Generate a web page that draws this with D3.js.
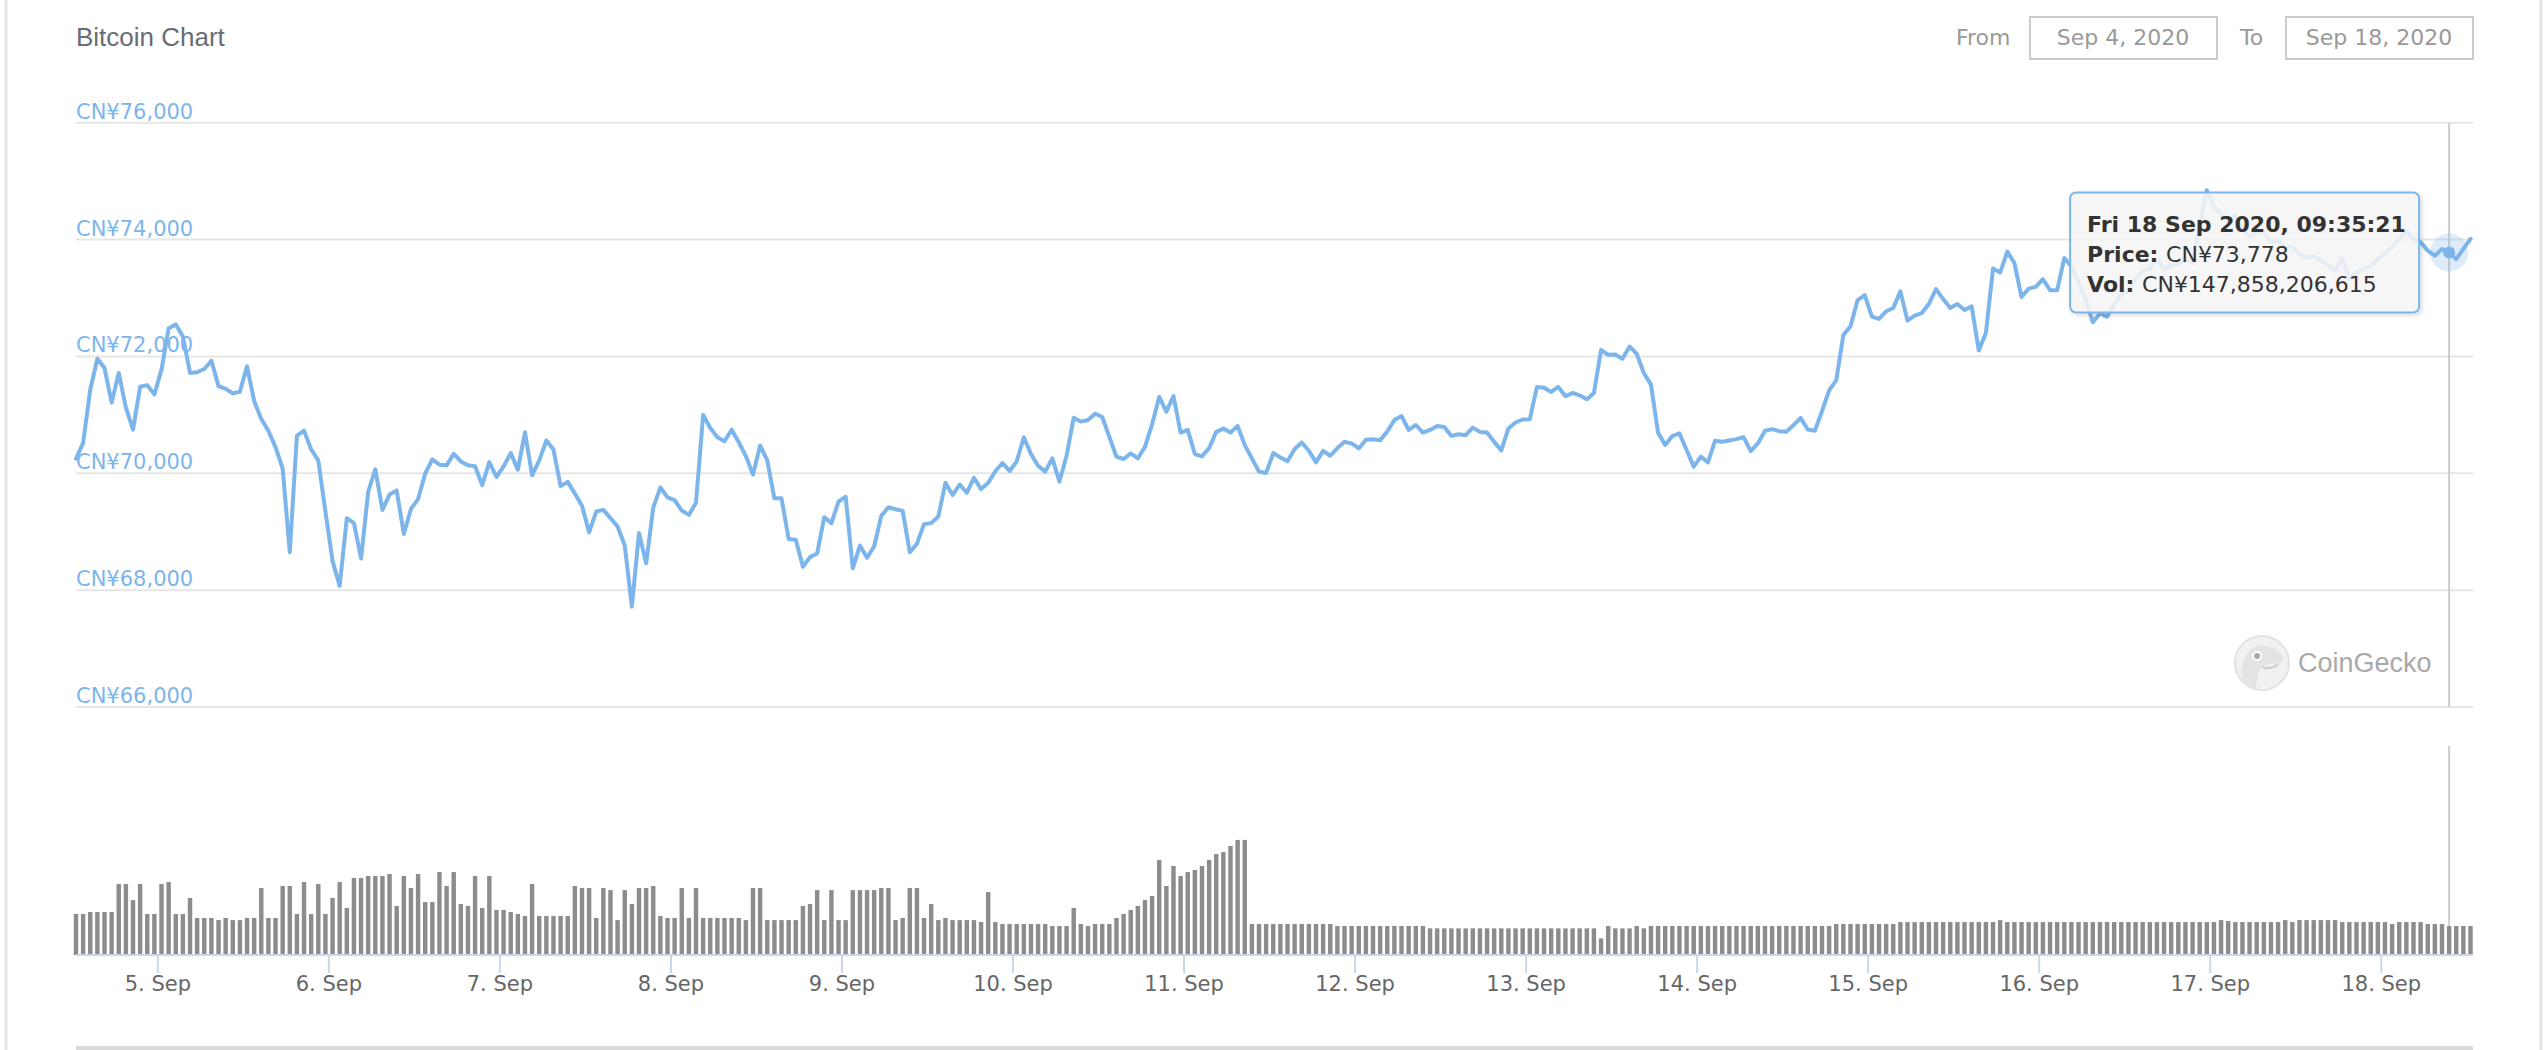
<!DOCTYPE html>
<html>
<head>
<meta charset="utf-8">
<script src="https://cdn.jsdelivr.net/npm/d3@7"></script>
<style>
  html, body { margin: 0; padding: 0; background: #fff; }
  svg { display: block; font-family: "DejaVu Sans", "Lucida Grande", sans-serif; }
</style>
</head>
<body>
<svg id="chart"></svg>
<script>
// Hourly samples, first one at Sep 4 2020 12:35:21 (UTC)
const firstSample = Date.UTC(2020, 8, 4, 12, 35, 21);

// Price in CNY, one value per hour
const prices = [
  70249, 70520, 71435, 71961, 71802, 71209, 71718, 71124, 70746, 71480,
  71509, 71350, 71774, 72480, 72548, 72339, 71718, 71729, 71785, 71927,
  71492, 71446, 71367, 71396, 71831, 71237, 70927, 70729, 70446, 70079,
  68650, 70644, 70729, 70407, 70220, 69345, 68497, 68073, 69232, 69147,
  68542, 69684, 70068, 69373, 69638, 69706, 68960, 69390, 69559, 69994,
  70237, 70147, 70136, 70333, 70203, 70136, 70119, 69797, 70192, 69938,
  70119, 70345, 70062, 70701, 69966, 70220, 70559, 70407, 69780, 69853,
  69655, 69446, 68989, 69345, 69373, 69232, 69090, 68763, 67717, 68977,
  68458, 69412, 69757, 69588, 69542, 69362, 69288, 69497, 71000, 70774,
  70616, 70548, 70746, 70531, 70294, 69977, 70475, 70220, 69571, 69571,
  68876, 68864, 68401, 68565, 68627, 69249, 69147, 69514, 69599, 68373,
  68763, 68554, 68751, 69271, 69418, 69384, 69356, 68650, 68791, 69130,
  69147, 69260, 69836, 69627, 69808, 69667, 69921, 69729, 69836, 70034,
  70175, 70040, 70203, 70616, 70329, 70130, 70028, 70255, 69858, 70300,
  70952, 70884, 70912, 71020, 70963, 70623, 70283, 70244, 70340, 70255,
  70453, 70839, 71309, 71054, 71320, 70697, 70742, 70329, 70289, 70431,
  70708, 70765, 70697, 70810, 70482, 70255, 70028, 70006, 70346, 70272,
  70204, 70414, 70527, 70385, 70187, 70385, 70300, 70431, 70538, 70510,
  70425, 70572, 70584, 70567, 70714, 70912, 70980, 70742, 70827, 70697,
  70742, 70810, 70793, 70640, 70669, 70652, 70782, 70708, 70697, 70538,
  70392, 70767, 70869, 70920, 70926, 71477, 71465, 71392, 71477, 71318,
  71375, 71335, 71267, 71375, 72113, 72028, 72033, 71960, 72170, 72045,
  71715, 71517, 70693, 70483, 70636, 70682, 70398, 70114, 70284, 70187,
  70557, 70540, 70562, 70585, 70619, 70381, 70511, 70727, 70755, 70721,
  70710, 70824, 70949, 70750, 70727, 71062, 71420, 71590, 72369, 72516,
  72965, 73050, 72681, 72641, 72772, 72829, 73113, 72613, 72698, 72743,
  72897, 73152, 72982, 72829, 72897, 72795, 72857, 72103, 72402, 73506,
  73437, 73793, 73598, 73017, 73161, 73190, 73322, 73132, 73132, 73684,
  73540, 73264, 72977, 72586, 72736, 72678, 72891, 73063, 73121, 73322,
  73465, 73494, 73667, 73494, 73552, 73580, 73667, 73598, 74241, 74845,
  74557, 74442, 74328, 74414, 74184, 74040, 74115, 74138, 73954, 73983,
  73868, 73885, 73753, 73695, 73713, 73638, 73563, 73465, 73678, 73322,
  73437, 73494, 73552, 73667, 73770, 73868, 74011, 74138, 74011, 73954,
  73810, 73724, 73839, 73778, 73667, 73839, 74011
];

// 24h volume in billions of CNY, one bar per hour
const volumes = [
  209, 209, 219, 219, 219, 219, 362, 362, 280, 362,
  209, 209, 362, 372, 209, 209, 291, 189, 189, 189,
  178, 189, 178, 178, 189, 189, 342, 189, 189, 352,
  352, 209, 372, 209, 362, 209, 291, 372, 240, 393,
  393, 403, 403, 403, 413, 250, 403, 342, 413, 270,
  270, 423, 352, 423, 260, 250, 403, 240, 403, 230,
  230, 219, 209, 199, 362, 199, 199, 199, 199, 199,
  352, 342, 342, 189, 342, 331, 178, 331, 260, 342,
  342, 352, 199, 189, 189, 342, 189, 342, 189, 189,
  189, 189, 189, 189, 178, 342, 342, 178, 178, 178,
  178, 178, 250, 260, 331, 178, 331, 178, 178, 331,
  331, 331, 331, 342, 342, 178, 189, 342, 342, 189,
  260, 178, 189, 178, 178, 178, 178, 168, 321, 168,
  158, 158, 158, 158, 158, 158, 158, 148, 148, 148,
  240, 158, 148, 158, 158, 158, 189, 209, 230, 250,
  280, 301, 485, 352, 454, 403, 423, 434, 454, 485,
  515, 525, 556, 587, 587, 158, 158, 158, 158, 158,
  158, 158, 158, 158, 158, 158, 158, 148, 148, 148,
  148, 148, 148, 148, 148, 148, 148, 148, 148, 148,
  136, 136, 136, 136, 136, 136, 136, 136, 136, 136,
  136, 136, 136, 136, 136, 136, 136, 136, 136, 136,
  136, 136, 136, 136, 85, 148, 136, 136, 136, 148,
  136, 148, 148, 148, 148, 148, 148, 148, 148, 148,
  148, 148, 148, 148, 148, 148, 148, 148, 148, 148,
  148, 148, 148, 148, 148, 148, 148, 158, 158, 158,
  158, 158, 158, 158, 158, 158, 168, 168, 168, 168,
  168, 168, 168, 168, 168, 168, 168, 168, 168, 168,
  178, 168, 168, 168, 168, 168, 168, 168, 168, 168,
  168, 168, 168, 168, 168, 168, 168, 168, 168, 168,
  168, 168, 168, 168, 168, 168, 168, 168, 168, 168,
  168, 178, 173, 168, 168, 168, 168, 168, 168, 168,
  178, 168, 178, 178, 178, 178, 178, 178, 168, 168,
  168, 168, 168, 168, 168, 158, 168, 168, 168, 168,
  158, 158, 158, 147.86, 148, 148, 148
];

const priceTicks = [66000, 68000, 70000, 72000, 74000, 76000];

// Hovered point shown in the tooltip
const hoverIndex = 333;
const hoverLabel = "Fri 18 Sep 2020, 09:35:21";
const hoverPrice = 73778;
const hoverVolume = 147858206615;

const fromLabel = "Sep 4, 2020", toLabel = "Sep 18, 2020";

const W = 2546, H = 1050;
const plot = { left: 76, right: 2473, priceTop: 122.7, priceBottom: 707, volTop: 746, volBottom: 955 };
const blue = "#7cb5ec";

const times = prices.map((d, i) => new Date(firstSample + i * 3600e3));

const svg = d3.select("#chart").attr("width", W).attr("height", H);

// card edges
svg.append("line").attr("x1", 6).attr("x2", 6).attr("y1", 0).attr("y2", H)
  .attr("stroke", "#e3e3e3").attr("stroke-width", 3);
svg.append("line").attr("x1", 2541).attr("x2", 2541).attr("y1", 0).attr("y2", H)
  .attr("stroke", "#e3e3e3").attr("stroke-width", 3);

// title
svg.append("text").attr("x", 76).attr("y", 46)
  .style("font-family", "'Liberation Sans', Arial, sans-serif")
  .style("font-size", "26px").style("fill", "#686d75")
  .text("Bitcoin Chart");

// date range inputs
const range = svg.append("g").style("font-size", "22px").style("fill", "#999");
range.append("text").attr("x", 1956).attr("y", 45).text("From");
range.append("rect").attr("x", 2030).attr("y", 17).attr("width", 187).attr("height", 42)
  .attr("fill", "#fff").attr("stroke", "#ccc").attr("stroke-width", 2);
range.append("text").attr("x", 2123).attr("y", 45).attr("text-anchor", "middle").text(fromLabel);
range.append("text").attr("x", 2240).attr("y", 45).text("To");
range.append("rect").attr("x", 2286).attr("y", 17).attr("width", 187).attr("height", 42)
  .attr("fill", "#fff").attr("stroke", "#ccc").attr("stroke-width", 2);
range.append("text").attr("x", 2379).attr("y", 45).attr("text-anchor", "middle").text(toLabel);

// scales
const x = d3.scaleUtc()
  .domain([times[0], times[times.length - 1]])
  .range([plot.left, 2470.5]);
const y = d3.scaleLinear().domain([66000, 76000]).range([plot.priceBottom, plot.priceTop]);
const yVol = d3.scaleLinear().domain([0, 1066]).range([plot.volBottom, plot.volTop]);

// grid + y labels
const grid = svg.append("g");
priceTicks.forEach(t => {
  grid.append("line")
    .attr("x1", plot.left).attr("x2", plot.right)
    .attr("y1", y(t)).attr("y2", y(t))
    .attr("stroke", "#e6e6e6").attr("stroke-width", 2);
});

// CoinGecko watermark
const logo = svg.append("g").attr("transform", "translate(2262,663)");
logo.append("circle").attr("r", 27).attr("fill", "#f1f1f1").attr("stroke", "#e2e2e2").attr("stroke-width", 2);
logo.append("path")
  .attr("d", "M-20,18 C-22,0 -16,-14 -4,-17 C6,-19 14,-14 20,-8 C23,-5 22,-1 17,0 C10,1 2,0 -2,6 C-5,12 -6,20 -6,26 C-12,25 -17,22 -20,18 Z")
  .attr("fill", "#e3e3e3");
logo.append("circle").attr("cx", -5).attr("cy", -7).attr("r", 5).attr("fill", "#fff");
logo.append("circle").attr("cx", -5).attr("cy", -7).attr("r", 3).attr("fill", "#a9a9a9");
logo.append("path").attr("d", "M0,4 C6,6 12,5 16,1").attr("fill", "none")
  .attr("stroke", "#cfcfcf").attr("stroke-width", 2);
svg.append("text").attr("x", 2298).attr("y", 672)
  .style("font-family", "'Liberation Sans', Arial, sans-serif")
  .style("font-size", "27px").style("fill", "#a9a9a9")
  .text("CoinGecko");

// crosshair
const hx = x(times[hoverIndex]);
svg.append("line").attr("x1", hx).attr("x2", hx).attr("y1", plot.priceTop).attr("y2", plot.priceBottom)
  .attr("stroke", "#cccccc").attr("stroke-width", 2);
svg.append("line").attr("x1", hx).attr("x2", hx).attr("y1", plot.volTop).attr("y2", plot.volBottom)
  .attr("stroke", "#cccccc").attr("stroke-width", 2);

// y axis labels sit on top of the grid lines
grid.selectAll("text.ylab").data(priceTicks).join("text")
  .attr("class", "ylab")
  .attr("x", plot.left).attr("y", d => y(d) - 4)
  .style("font-size", "21px").style("fill", blue)
  .text(d => "CN¥" + d3.format(",")(d));

// volume bars
const step = x(times[1]) - x(times[0]);
const barW = step * 0.62;
svg.append("g").selectAll("rect").data(volumes).join("rect")
  .attr("x", (d, i) => x(times[i]) - barW / 2)
  .attr("width", barW)
  .attr("y", d => yVol(d))
  .attr("height", d => plot.volBottom - yVol(d))
  .attr("fill", "#8c8c8c");

// price line
const line = d3.line().x((d, i) => x(times[i])).y(d => y(d));
svg.append("path").datum(prices)
  .attr("d", line)
  .attr("fill", "none").attr("stroke", blue).attr("stroke-width", 4)
  .attr("stroke-linejoin", "round").attr("stroke-linecap", "round");

// x axis
const xAxis = d3.axisBottom(x)
  .ticks(d3.utcDay.every(1))
  .tickFormat(d3.utcFormat("%-d. %b"))
  .tickSize(18).tickSizeOuter(0).tickPadding(3);
const gx = svg.append("g").attr("transform", `translate(0,${plot.volBottom})`).call(xAxis);
gx.select(".domain").remove();
gx.selectAll(".tick line").attr("stroke", "#ccd6eb").attr("stroke-width", 2);
gx.selectAll(".tick text").style("font-size", "21px").style("fill", "#666").style("font-family", "'DejaVu Sans', sans-serif");
svg.append("line").attr("x1", plot.left).attr("x2", plot.right)
  .attr("y1", plot.volBottom).attr("y2", plot.volBottom)
  .attr("stroke", "#ccd6eb").attr("stroke-width", 2);

// navigator edge at the bottom
svg.append("rect").attr("x", plot.left).attr("y", 1046).attr("width", plot.right - plot.left).attr("height", 4)
  .attr("fill", "#dadada");

// hover marker
const hy = y(prices[hoverIndex]);
svg.append("circle").attr("cx", hx).attr("cy", hy).attr("r", 19).attr("fill", blue).attr("opacity", 0.25);
svg.append("circle").attr("cx", hx).attr("cy", hy).attr("r", 6).attr("fill", blue);

// tooltip
const defs = svg.append("defs");
const f = defs.append("filter").attr("id", "shadow").attr("x", "-10%").attr("y", "-10%").attr("width", "120%").attr("height", "130%");
f.append("feDropShadow").attr("dx", 2).attr("dy", 2).attr("stdDeviation", 2).attr("flood-color", "#000").attr("flood-opacity", 0.15);

const tip = svg.append("g").attr("transform", `translate(${hx - 379},${hy - 60})`);
tip.append("rect").attr("width", 349).attr("height", 120).attr("rx", 6)
  .attr("fill", "rgba(247,247,247,0.85)").attr("stroke", blue).attr("stroke-width", 2)
  .attr("filter", "url(#shadow)");
const tt = tip.append("text").style("font-size", "22px").style("fill", "#333");
tt.append("tspan").attr("x", 17).attr("y", 39).style("font-weight", "bold").text(hoverLabel);
const l2 = tt.append("tspan").attr("x", 17).attr("y", 69);
l2.append("tspan").style("font-weight", "bold").text("Price: ");
l2.append("tspan").text("CN¥" + d3.format(",")(hoverPrice));
const l3 = tt.append("tspan").attr("x", 17).attr("y", 99);
l3.append("tspan").style("font-weight", "bold").text("Vol: ");
l3.append("tspan").text("CN¥" + d3.format(",")(hoverVolume));
</script>
</body>
</html>
